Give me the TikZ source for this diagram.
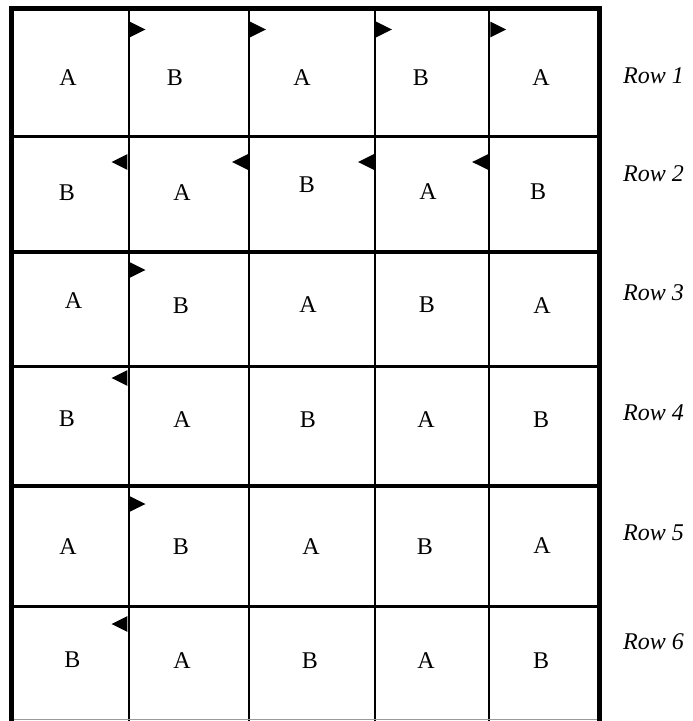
\documentclass[tikz,border=0pt]{standalone}
\usepackage{fontspec}
\setmainfont{Liberation Serif}
\begin{document}
\begin{tikzpicture}[x=1pt,y=-1pt,
  cellletter/.style={inner sep=0pt,font=\fontsize{24}{28}\selectfont},
  rowlabel/.style={inner sep=0pt,anchor=west,font=\fontsize{24}{28}\selectfont\itshape},
  rowline/.style={line width=3.2pt},
  colline/.style={line width=2pt},
  border/.style={line width=5pt},
  bottomline/.style={line width=1.2pt,draw=black!40},
  flag/.style={fill=black}
]
\useasboundingbox (0,0) rectangle (693,721);
% grid lines
\foreach \yy in {136.5,252,366.5,486,606.5} \draw[rowline] (14,\yy) -- (597,\yy);
\foreach \xx in {128.5,249,375,489.2} \draw[colline] (\xx,11) -- (\xx,721);
\draw[bottomline] (14,719.6) -- (597,719.6);
\draw[border] (11.5,6) -- (11.5,721);
\draw[border] (599.5,6) -- (599.5,721);
\draw[border] (9,8.5) -- (602,8.5);
% right-pointing flags
\foreach \xx/\yy in {128.5/29.5,249/29.5,375/29.5,489.2/29.5,128.5/270,128.5/504}
  \fill[flag] (\xx+1.2,\yy-7.8) -- (\xx+17,\yy) -- (\xx+1.2,\yy+7.8) -- cycle;
% left-pointing flags
\foreach \xx/\yy in {128.5/162,249/162,375/162,489.2/162,128.5/378,128.5/624}
  \fill[flag] (\xx-1.2,\yy-7.8) -- (\xx-17,\yy) -- (\xx-1.2,\yy+7.8) -- cycle;
% row 1
\node[cellletter] (r1c1) at (68,78) {A};
\node[cellletter] (r1c2) at (175,78) {B};
\node[cellletter] (r1c3) at (302,78) {A};
\node[cellletter] (r1c4) at (421,78) {B};
\node[cellletter] (r1c5) at (541,78) {A};
% row 2
\node[cellletter] (r2c1) at (67,193) {B};
\node[cellletter] (r2c2) at (182,193) {A};
\node[cellletter] (r2c3) at (307,185) {B};
\node[cellletter] (r2c4) at (428,192) {A};
\node[cellletter] (r2c5) at (538,192) {B};
% row 3
\node[cellletter] (r3c1) at (73.5,301) {A};
\node[cellletter] (r3c2) at (181,306) {B};
\node[cellletter] (r3c3) at (308,305) {A};
\node[cellletter] (r3c4) at (427,305) {B};
\node[cellletter] (r3c5) at (542,306) {A};
% row 4
\node[cellletter] (r4c1) at (67,419) {B};
\node[cellletter] (r4c2) at (182,420) {A};
\node[cellletter] (r4c3) at (308,420) {B};
\node[cellletter] (r4c4) at (426,420) {A};
\node[cellletter] (r4c5) at (541,420) {B};
% row 5
\node[cellletter] (r5c1) at (68,547) {A};
\node[cellletter] (r5c2) at (181,547) {B};
\node[cellletter] (r5c3) at (311,547) {A};
\node[cellletter] (r5c4) at (425,547) {B};
\node[cellletter] (r5c5) at (542,546) {A};
% row 6
\node[cellletter] (r6c1) at (72.5,660) {B};
\node[cellletter] (r6c2) at (182,661) {A};
\node[cellletter] (r6c3) at (310,661) {B};
\node[cellletter] (r6c4) at (426,661) {A};
\node[cellletter] (r6c5) at (541,661) {B};
% row labels
\node[rowlabel] (lab1) at (623,76) {Row 1};
\node[rowlabel] (lab2) at (623,174) {Row 2};
\node[rowlabel] (lab3) at (623,293) {Row 3};
\node[rowlabel] (lab4) at (623,413) {Row 4};
\node[rowlabel] (lab5) at (623,533) {Row 5};
\node[rowlabel] (lab6) at (623,641.5) {Row 6};
\end{tikzpicture}
\end{document}
